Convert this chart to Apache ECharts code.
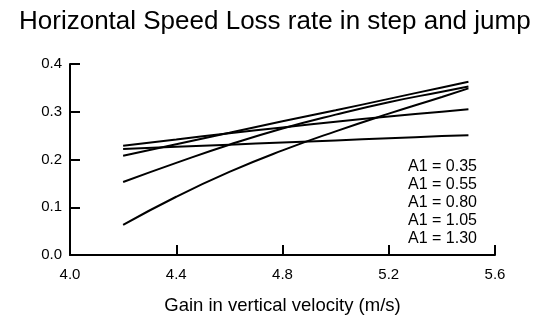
<!DOCTYPE html>
<html>
<head>
<meta charset="utf-8">
<script src="https://cdn.jsdelivr.net/npm/echarts@6/dist/echarts.min.js"></script>
<style>
html,body{margin:0;padding:0;background:#fff;}
#chart{width:543px;height:320px;}
</style>
</head>
<body>
<div id="chart"></div>
<script>
var titleText = 'Horizontal Speed Loss rate in step and jump';
var xAxisName = 'Gain in vertical velocity (m/s)';
var seriesNames = ['A1 = 0.35', 'A1 = 0.55', 'A1 = 0.80', 'A1 = 1.05', 'A1 = 1.30'];
var gain = [4.2, 4.4, 4.6, 4.8, 5.0, 5.2, 5.4, 5.5];
var rateA1_035 = [0.222, 0.2265, 0.231, 0.2355, 0.240, 0.2445, 0.249, 0.251];
var rateA1_055 = [0.229, 0.242, 0.255, 0.267, 0.279, 0.290, 0.300, 0.305];
var rateA1_080 = [0.208, 0.232, 0.256, 0.280, 0.303, 0.327, 0.351, 0.363];
var rateA1_105 = [0.153, 0.193, 0.231, 0.265, 0.294, 0.320, 0.342, 0.353];
var rateA1_130 = [0.063, 0.122, 0.174, 0.219, 0.259, 0.296, 0.331, 0.349];
var seriesValues = [rateA1_035, rateA1_055, rateA1_080, rateA1_105, rateA1_130];

var chart = echarts.init(document.getElementById('chart'), null, {renderer: 'canvas'});
var font = 'Liberation Sans, Arial, sans-serif';

var series = seriesValues.map(function (vals, i) {
  return {
    name: seriesNames[i],
    type: 'line',
    data: gain.map(function (g, j) { return [g, vals[j]]; }),
    showSymbol: false,
    smooth: true,
    lineStyle: {color: '#000', width: 2},
    itemStyle: {color: '#000'},
    silent: true
  };
});

chart.setOption({
  animation: false,
  backgroundColor: '#fff',
  title: {
    text: titleText,
    left: 14,
    top: 4,
    textStyle: {fontFamily: font, fontSize: 26, fontWeight: 'normal', color: '#000'}
  },
  grid: {left: 70, right: 48, top: 64, bottom: 63},
  xAxis: {
    type: 'value',
    min: 4.0, max: 5.6, interval: 0.4,
    name: xAxisName,
    nameLocation: 'middle',
    nameGap: 41,
    nameTextStyle: {fontFamily: font, fontSize: 18.5, color: '#000'},
    axisLine: {lineStyle: {color: '#000', width: 2}},
    axisTick: {inside: true, length: 10, lineStyle: {color: '#000', width: 2}},
    axisLabel: {fontFamily: font, fontSize: 15, color: '#000', margin: 12,
      formatter: function (v) { return v.toFixed(1); }},
    splitLine: {show: false}
  },
  yAxis: {
    type: 'value',
    min: 0, max: 0.4, interval: 0.1,
    axisLine: {show: true, lineStyle: {color: '#000', width: 2}},
    axisTick: {show: true, inside: true, length: 10, lineStyle: {color: '#000', width: 2}},
    axisLabel: {fontFamily: font, fontSize: 15, color: '#000', margin: 8,
      formatter: function (v) { return v.toFixed(1); }},
    splitLine: {show: false}
  },
  graphic: [{
    type: 'text',
    left: 408,
    top: 158,
    style: {
      text: seriesNames.join('\n'),
      fontFamily: font,
      fontSize: 16,
      lineHeight: 18,
      fill: '#000'
    }
  }],
  series: series
});
</script>
</body>
</html>
